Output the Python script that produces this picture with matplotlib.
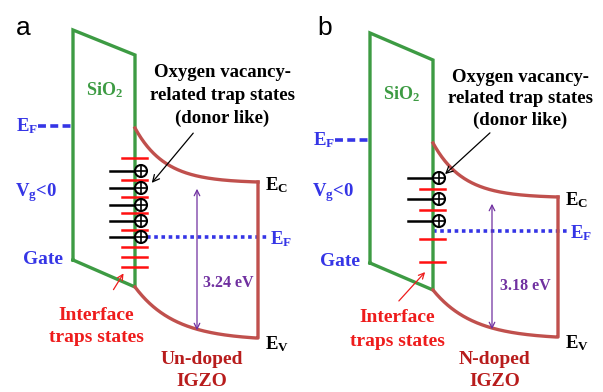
import numpy as np
import matplotlib
matplotlib.use("Agg")
import matplotlib.pyplot as plt
from matplotlib.patches import Circle

plt.rcParams['mathtext.fontset'] = 'custom'
plt.rcParams['mathtext.rm'] = 'Liberation Serif:bold'
plt.rcParams['mathtext.it'] = 'Liberation Serif:bold'
plt.rcParams['mathtext.bf'] = 'Liberation Serif:bold'

# --- band diagram geometry (pixel space, y grows downward) ---
panel_labels = ["a", "b"]
panel_label_xy = [(23, 28), (325, 28)]
oxide_left_x = [73, 370]
oxide_right_x = [135, 433]
oxide_top = [(30, 55), (33, 60)]          # (left, right) top edge
oxide_bottom = [(260, 287), (263, 290)]   # (left, right) bottom edge
gate_fermi_y = [126, 140]
ec_levels = [(128, 182), (143, 197)]      # (interface, bulk)
ev_levels = [(287, 338), (290, 337)]
semi_right_x = [258, 558]
semi_fermi_y = [237, 231]
band_gap_ev = [3.24, 3.18]
trap_levels = [[158, 180, 197, 213, 230, 247, 257, 267],
               [189, 210, 239, 262]]
donor_levels = [[171, 188, 205, 221, 237],
                [178, 199, 221]]
material_names = ["Un-doped", "N-doped"]

GREEN = "#3d9b43"
BAND = "#c0504d"
BLUE = "#3535e6"
PURPLE = "#7030a0"
TRAP = "#ff1010"
TXT_RED = "#ee1c1c"
DARK_RED = "#b81c1c"

fig = plt.figure(figsize=(6.03, 3.92), dpi=100)
ax = fig.add_axes([0, 0, 1, 1])
ax.set_xlim(0, 603)
ax.set_ylim(392, 0)
ax.axis("off")

serif = dict(family="Liberation Serif", weight="bold")


def band_curve(x0, x1, y0, y1, L):
    x = np.linspace(x0, x1, 200)
    t = x - x0
    frac = (1 - np.exp(-t / L)) / (1 - np.exp(-(x1 - x0) / L))
    return x, y0 + (y1 - y0) * frac


for i in range(2):
    xl, xr = oxide_left_x[i], oxide_right_x[i]
    (tl, tr), (bl, br) = oxide_top[i], oxide_bottom[i]
    xe = semi_right_x[i]

    ax.text(*panel_label_xy[i], panel_labels[i], family="Liberation Sans",
            fontsize=19, ha="center", va="center")

    # oxide (SiO2) band
    ax.plot([xl, xl, xr, xr, xl], [bl, tl, tr, br, bl], color=GREEN, lw=2.4,
            solid_joinstyle="miter", zorder=2)
    ax.text((xl + xr) / 2, 90 + 4 * i, r"SiO$_2$", color=GREEN, fontsize=13,
            ha="center", va="center", **serif)

    # gate Fermi level
    gy = gate_fermi_y[i]
    ax.plot([xl - 35, xl], [gy, gy], color=BLUE, lw=2.6, ls=(0, (2.2, 1.2)))
    ax.text(xl - 46, gy, r"E$_\mathrm{F}$", color=BLUE, fontsize=13.5,
            ha="center", va="center", **serif)
    ax.text(xl - 37, 193, r"V$_\mathrm{g}$<0", color=BLUE, fontsize=13.5,
            ha="center", va="center", **serif)
    ax.text(xl - 30, 259 + 3 * i, "Gate", color=BLUE, fontsize=14,
            ha="center", va="center", **serif)

    # semiconductor bands
    ec0, ec1 = ec_levels[i]
    ev0, ev1 = ev_levels[i]
    x, y = band_curve(xr, xe, ec0, ec1, 30)
    ax.plot(x, y, color=BAND, lw=2.4, zorder=2)
    x, y = band_curve(xr, xe - 2, ev0, ev1, 40)
    ax.plot(np.r_[x, xe, xe], np.r_[y, ev1, ec1], color=BAND, lw=2.4,
            solid_joinstyle="round", zorder=2)
    ax.text(xe + 19, ec1 + 3, r"E$_\mathrm{C}$", fontsize=13.5, ha="center",
            va="center", **serif)
    ax.text(xe + 19, ev1 + 6, r"E$_\mathrm{V}$", fontsize=13.5, ha="center",
            va="center", **serif)

    # semiconductor Fermi level
    fy = semi_fermi_y[i]
    ax.plot([xr + 12 if i == 0 else xr, xe + 10], [fy, fy], color=BLUE, lw=2.6,
            ls=(0, (1.0, 1.0)), zorder=1)
    ax.text(xe + 23, fy + 2, r"E$_\mathrm{F}$", color=BLUE, fontsize=13.5,
            ha="center", va="center", **serif)

    # band gap arrow
    ax_x = 197 if i == 0 else 492
    ax.annotate("", xy=(ax_x, ec1 + 4), xytext=(ax_x, ev1 - 5),
                arrowprops=dict(arrowstyle="<->", color=PURPLE, lw=0.9,
                                mutation_scale=10))
    ax.text(ax_x + 31 if i == 0 else ax_x + 33, 283 + 3 * i,
            f"{band_gap_ev[i]:.2f} eV", color=PURPLE, fontsize=11.5,
            ha="center", va="center", **serif)

    # interface traps
    for ty in trap_levels[i]:
        ax.plot([xr - 13, xr + 12], [ty, ty], color=TRAP, lw=1.8, zorder=3)
    for dy in donor_levels[i]:
        ax.plot([xr - 25, xr], [dy, dy], color="black", lw=1.8, zorder=3)
        cx = xr + 6
        ax.add_patch(Circle((cx, dy), 6, facecolor="white", edgecolor="black",
                            lw=1.5, zorder=4))
        ax.plot([cx - 6, cx + 6], [dy, dy], color="black", lw=1.2, zorder=5)
        ax.plot([cx, cx], [dy - 6, dy + 6], color="black", lw=1.2, zorder=5)

    # annotations
    ocx = 222 if i == 0 else 520
    oys = [72, 95, 118] if i == 0 else [77, 98, 120]
    for line, oy in zip(["Oxygen vacancy-", "related trap states", "(donor like)"], oys):
        ax.text(ocx, oy, line, fontsize=13.5, ha="center", va="center", **serif)
    tail, head = ((195, 131), (150, 185)) if i == 0 else ((492, 131), (443, 176))
    ax.annotate("", xy=head, xytext=tail,
                arrowprops=dict(arrowstyle="->", color="black", lw=0.9,
                                mutation_scale=12))

    icx = 96 if i == 0 else 397
    iys = [315, 337] if i == 0 else [317, 341]
    for line, iy in zip(["Interface", "traps states"], iys):
        ax.text(icx, iy, line, color=TXT_RED, fontsize=14, ha="center",
                va="center", **serif)
    tail, head = ((112, 292), (125, 271)) if i == 0 else ((397, 303), (427, 270))
    ax.annotate("", xy=head, xytext=tail,
                arrowprops=dict(arrowstyle="->", color=TXT_RED, lw=0.9,
                                mutation_scale=10))

    mcx = 202 if i == 0 else 495
    ax.text(mcx, 360, material_names[i], color=DARK_RED, fontsize=14,
            ha="center", va="center", **serif)
    ax.text(mcx, 382, "IGZO", color=DARK_RED, fontsize=14, ha="center",
            va="center", **serif)

fig.savefig("out.png", dpi=100)
